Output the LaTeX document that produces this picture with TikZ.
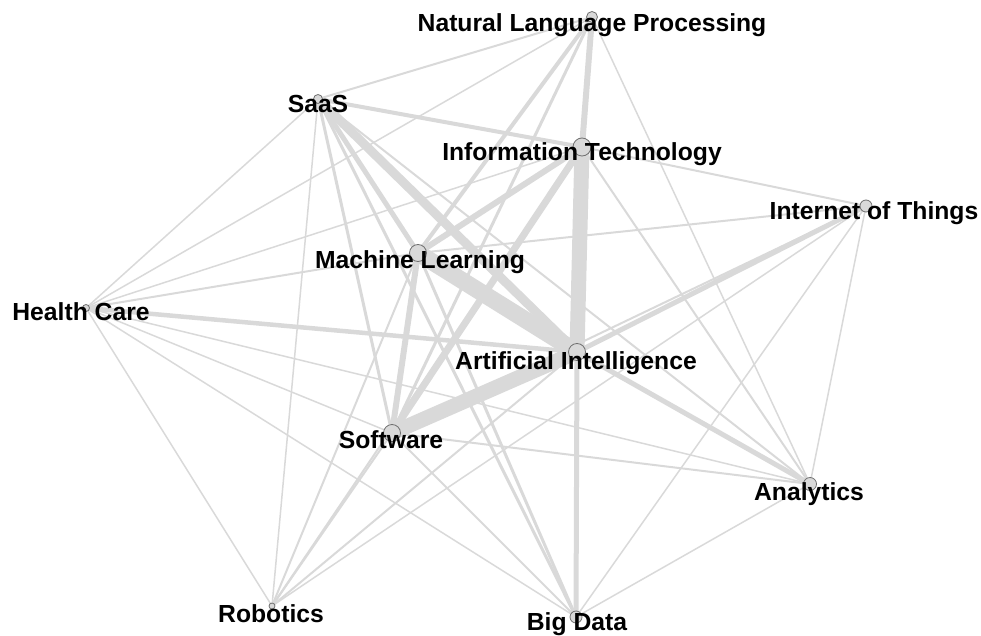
\documentclass[tikz,border=0pt]{standalone}
\usepackage{fontspec}
\setmainfont{Liberation Sans}
\pgfdeclarelayer{edges}
\pgfsetlayers{edges,main}
\definecolor{edgegray}{HTML}{D9D9D9}
\definecolor{circgray}{HTML}{707070}
\begin{document}
\begin{tikzpicture}[x=1pt,y=-1pt,
  hub/.style={circle, draw=circgray, fill=edgegray, line width=0.8pt, inner sep=0pt, minimum size=#1},
  tag/.style={anchor=base, font=\fontsize{24.7}{29}\selectfont\bfseries, text=black, inner sep=0pt},
  link/.style={draw=edgegray, line width=#1}]
\useasboundingbox (0,0) rectangle (981,636);

% topic hubs
\node[hub=11pt] (nlp)  at (592,17)  {};
\node[hub=9pt]  (saas) at (318,99)  {};
\node[hub=18pt] (it)   at (582,147) {};
\node[hub=12pt] (iot)  at (866,206) {};
\node[hub=17pt] (ml)   at (418,253) {};
\node[hub=7pt]  (hc)   at (86,308)  {};
\node[hub=17pt] (ai)   at (577,352) {};
\node[hub=17pt] (sw)   at (392,433) {};
\node[hub=13pt] (an)   at (810,484) {};
\node[hub=6pt]  (rb)   at (272,606) {};
\node[hub=12pt] (bd)   at (576,617) {};

% co-occurrence links, width by strength
\begin{pgfonlayer}{edges}
\foreach \a/\b/\w in {
  nlp/it/6, nlp/saas/2, nlp/hc/1.5, nlp/ml/4, nlp/sw/3, nlp/an/1.5,
  saas/it/4, saas/ai/9, saas/ml/5, saas/sw/3, saas/bd/3, saas/rb/1.5, saas/hc/1.5, saas/an/2,
  it/ai/15, it/ml/6, it/sw/7, it/iot/2, it/hc/1.5, it/an/2, it/rb/2,
  ml/ai/17, ml/sw/6, ml/hc/2, ml/bd/3, ml/iot/2, ml/rb/2,
  ai/sw/15, ai/iot/5, ai/an/5, ai/bd/5, ai/hc/4.5, ai/rb/2,
  sw/hc/1.5, sw/bd/2, sw/an/2, sw/rb/2, sw/iot/2,
  hc/an/1.5, hc/bd/1.5, hc/rb/1.5,
  bd/iot/1.5, bd/an/1.5, an/iot/1.5, rb/iot/1.5}
  \draw[link=\w pt] (\a.center) -- (\b.center);
\end{pgfonlayer}

% labels
\node[tag] (nlp-t)  at (592,32)  {Natural Language Processing};
\node[tag] (saas-t) at (318,113) {SaaS};
\node[tag] (it-t)   at (582,161) {Information Technology};
\node[tag] (iot-t)  at (874,219) {Internet of Things};
\node[tag] (ml-t)   at (420,268) {Machine Learning};
\node[tag] (hc-t)   at (81,320)  {Health Care};
\node[tag] (ai-t)   at (576,369) {Artificial Intelligence};
\node[tag] (sw-t)   at (391,448) {Software};
\node[tag] (an-t)   at (809,500) {Analytics};
\node[tag] (rb-t)   at (271,622) {Robotics};
\node[tag] (bd-t)   at (577,630) {Big Data};
\end{tikzpicture}
\end{document}
